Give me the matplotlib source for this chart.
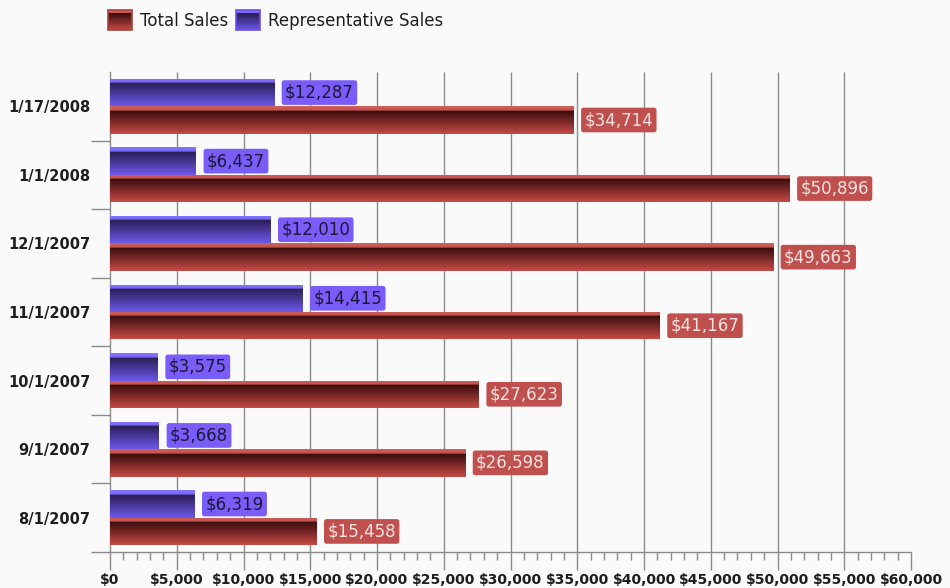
"""Horizontal bar chart of total vs representative sales by date"""

import numpy as np
import matplotlib.pyplot as plt
from matplotlib.colors import LinearSegmentedColormap
from matplotlib.legend_handler import HandlerBase
from matplotlib.patches import Rectangle
from matplotlib.ticker import MultipleLocator, FuncFormatter


# Data (bottom to top)
dates = ['8/1/2007', '9/1/2007', '10/1/2007', '11/1/2007', '12/1/2007', '1/1/2008', '1/17/2008']
total_sales = [15458, 26598, 27623, 41167, 49663, 50896, 34714]
rep_sales = [6319, 3668, 3575, 14415, 12010, 6437, 12287]

BG = '#fafafa'
AXIS_GRAY = '#8a8a8a'
X_MAX = 60000
X_STEP = 5000

# Gradients: light strip on top, then dark fading to lighter at the bottom
blue_cmap = LinearSegmentedColormap.from_list('blue_bar', [
    (0.0, '#8474ff'), (0.15, '#7666f4'), (0.18, '#2b1f58'), (1.0, '#6d58ea')])
red_cmap = LinearSegmentedColormap.from_list('red_bar', [
    (0.0, '#cf625c'), (0.15, '#c2524e'), (0.18, '#3d0d0d'), (1.0, '#c64b47')])


def gradient_bars(ax, bars, cmap):
    """Paints a vertical gradient inside every bar"""
    grad = np.linspace(0, 1, 256).reshape(-1, 1)
    for bar in bars:
        x0, y0 = bar.get_x(), bar.get_y()
        w, h = bar.get_width(), bar.get_height()
        im = ax.imshow(grad, cmap=cmap, aspect='auto', origin='upper',
                       extent=(x0, x0 + w, y0, y0 + h), zorder=3, interpolation='nearest')
        im.set_clip_path(bar)


class GradientHandler(HandlerBase):
    """Legend key drawn as stacked strips of a colormap"""

    def __init__(self, cmap, edge):
        super().__init__()
        self.cmap = cmap
        self.edge = edge

    def create_artists(self, legend, orig_handle, xdescent, ydescent, width, height, fontsize, trans):
        n = 24
        artists = []
        for i in range(n):
            c = self.cmap((i + 0.5) / n)
            y = -ydescent + height * (1 - (i + 1) / n)
            artists.append(Rectangle((-xdescent, y), width, height / n, fc=c, ec='none',
                                     transform=trans))
        artists.append(Rectangle((-xdescent, -ydescent), width, height, fc='none',
                                 ec=self.edge, lw=1.2, transform=trans))
        return artists


fig = plt.figure(figsize=(9.5, 5.88), dpi=100, facecolor=BG)
ax = fig.add_axes([110 / 950, 36 / 588, 801 / 950, 480 / 588])
ax.set_facecolor(BG)

pos = np.arange(len(dates))
bar_h = 0.4
red_bars = ax.barh(pos - bar_h / 2, total_sales, height=bar_h, color='#8a2a28', zorder=2)
blue_bars = ax.barh(pos + bar_h / 2, rep_sales, height=bar_h, color='#4a3aa0', zorder=2)
gradient_bars(ax, red_bars, red_cmap)
gradient_bars(ax, blue_bars, blue_cmap)

# Value labels
for y, v in zip(pos - bar_h / 2, total_sales):
    ax.annotate(f'${v:,}', (v, y), xytext=(11, 0), textcoords='offset pixels',
                ha='left', va='center', fontsize=12, color='#f6e4e2', zorder=5,
                bbox=dict(boxstyle='round,pad=0.2,rounding_size=0.15', fc='#c0504d', ec='none'))
for y, v in zip(pos + bar_h / 2, rep_sales):
    ax.annotate(f'${v:,}', (v, y), xytext=(11, 0), textcoords='offset pixels',
                ha='left', va='center', fontsize=12, color='#1c1838', zorder=5,
                bbox=dict(boxstyle='round,pad=0.2,rounding_size=0.15', fc='#7a5cf8', ec='none'))

# Axes
ax.set_xlim(0, X_MAX)
ax.set_ylim(-0.5, len(dates) - 0.5)
ax.xaxis.set_major_locator(MultipleLocator(X_STEP))
ax.xaxis.set_minor_locator(MultipleLocator(1000))
ax.xaxis.set_major_formatter(FuncFormatter(lambda v, _: f'${v:,.0f}'))
ax.tick_params(axis='x', which='major', length=13, width=1, color=AXIS_GRAY, pad=2,
               labelsize=10, labelcolor='#1e1e1e')
ax.tick_params(axis='x', which='minor', length=6, width=1, color=AXIS_GRAY)
for lbl in ax.get_xticklabels():
    lbl.set_fontweight('bold')

ax.set_yticks(pos - 0.5)
ax.set_yticklabels([])
ax.set_yticks(pos, minor=True)
ax.set_yticklabels(dates, minor=True, fontsize=10.5, fontweight='bold', color='#1e1e1e')
ax.tick_params(axis='y', which='major', length=14, width=1, color=AXIS_GRAY)
ax.tick_params(axis='y', which='minor', length=0, pad=14)

# Vertical grid lines at inner major ticks only
ax.vlines(np.arange(X_STEP, X_MAX, X_STEP), -0.5, len(dates) - 0.5,
          color=AXIS_GRAY, linewidth=1, zorder=1)

for side in ('top', 'right'):
    ax.spines[side].set_visible(False)
for side in ('left', 'bottom'):
    ax.spines[side].set_color(AXIS_GRAY)
    ax.spines[side].set_linewidth(1)

# Legend
h_total = Rectangle((0, 0), 1, 1)
h_rep = Rectangle((0, 0), 1, 1)
fig.legend([h_total, h_rep], ['Total Sales', 'Representative Sales'], loc='upper left',
           bbox_to_anchor=(93 / 950, 1 + 5 / 588), ncol=2, frameon=False, fontsize=12,
           handlelength=1.45, handleheight=1.5, handletextpad=0.45, columnspacing=0.5,
           labelcolor='#1e1e1e',
           handler_map={h_total: GradientHandler(red_cmap, '#a8403c'),
                        h_rep: GradientHandler(blue_cmap, '#6a50e8')})

fig.savefig('out.png', dpi=100, facecolor=BG)
